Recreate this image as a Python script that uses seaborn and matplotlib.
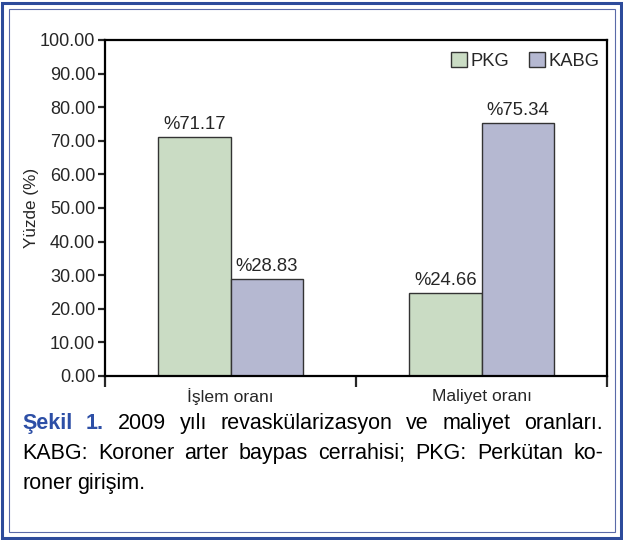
import matplotlib
matplotlib.use('Agg')
from matplotlib import pyplot as plt
from matplotlib.patches import Rectangle
import seaborn as sns
import pandas as pd

categories = ['İşlem oranı', 'Maliyet oranı']
groups = ['PKG', 'KABG']
pkg = [71.17, 24.66]
kabg = [28.83, 75.34]
yticks = [0, 10, 20, 30, 40, 50, 60, 70, 80, 90, 100]

caption_lines = [
    ['Şekil', '1.', '2009', 'yılı', 'revaskülarizasyon', 've', 'maliyet', 'oranları.'],
    ['KABG:', 'Koroner', 'arter', 'baypas', 'cerrahisi;', 'PKG:', 'Perkütan', 'ko-'],
    ['roner', 'girişim.'],
]

df = pd.DataFrame({
    'kategori': categories * 2,
    'grup': [groups[0]] * 2 + [groups[1]] * 2,
    'deger': pkg + kabg,
})

sns.set_style('white')
plt.rcParams['font.family'] = ['Liberation Sans', 'DejaVu Sans']

W, H = 623, 540
fig = plt.figure(figsize=(W / 100, H / 100), dpi=100)
ax = fig.add_axes([105 / W, 1 - 376 / H, (607 - 105) / W, (376 - 40) / H])

sns.barplot(data=df, x='kategori', y='deger', hue='grup', order=categories,
            hue_order=groups, palette=['#c8e0c0', '#b1b4d5'], width=0.575,
            gap=0, edgecolor='#333333', linewidth=1.0, ax=ax, legend=True)

for cont in ax.containers:
    ax.bar_label(cont, labels=['%' + format(v, '.2f') for v in cont.datavalues],
                 padding=3, fontsize=13.3)

ax.set_xlim(-0.5, 1.5)
ax.set_ylim(0, 100)
ax.set_yticks(yticks)
ax.set_yticklabels([format(v, '.2f') for v in yticks])
ax.set_xticks([-0.5, 0.5, 1.5])
ax.set_xticklabels([])
ax.set_xticks([0, 1], minor=True)
ax.set_xticklabels(categories, minor=True)
ax.tick_params(axis='y', direction='out', length=5, width=1.6, labelsize=13, pad=2, left=True)
ax.tick_params(axis='x', which='major', direction='out', length=8, width=1.6, bottom=True)
ax.tick_params(axis='x', which='minor', length=0, pad=9, labelsize=12.6)
for s in ax.spines.values():
    s.set_visible(True)
    s.set_color('black')
    s.set_linewidth(1.6)
ax.set_xlabel('')
ax.set_ylabel('Yüzde (%)', fontsize=12.3, labelpad=1)

ax.legend(loc='upper right', ncol=2, frameon=False, fontsize=13.2,
          handlelength=0.85, handleheight=0.85, handletextpad=0.2,
          columnspacing=1.1, borderaxespad=0, bbox_to_anchor=(1.0, 0.985))

# frame around the figure
fig.patches.append(Rectangle((2.5 / W, 2.5 / H), (W - 5) / W, (H - 5) / H,
                             transform=fig.transFigure, fill=False,
                             edgecolor='#2d4b9b', linewidth=2.2))
fig.patches.append(Rectangle((8.5 / W, 8.5 / H), (W - 17) / W, (H - 17) / H,
                             transform=fig.transFigure, fill=False,
                             edgecolor='#5a6aa8', linewidth=0.8))

# caption, justified like the printed figure
x0, x1 = 22, 603
baselines = [429, 459, 489]
fig.canvas.draw()
r = fig.canvas.get_renderer()
for i, words in enumerate(caption_lines):
    texts = []
    for j, w in enumerate(words):
        bold = i == 0 and j < 2
        t = fig.text(0, 1 - baselines[i] / H, w, fontsize=15.5, va='baseline',
                     color='#2d4fa6' if bold else 'black',
                     fontweight='bold' if bold else 'normal')
        texts.append(t)
    widths = [t.get_window_extent(r).width for t in texts]
    if i < len(caption_lines) - 1:
        gap = (x1 - x0 - sum(widths)) / (len(words) - 1)
    else:
        gap = texts[0].get_window_extent(r).height * 0.25
    x = x0
    for t, w in zip(texts, widths):
        t.set_x(x / W)
        x += w + gap

fig.savefig('out.png', dpi=100)
